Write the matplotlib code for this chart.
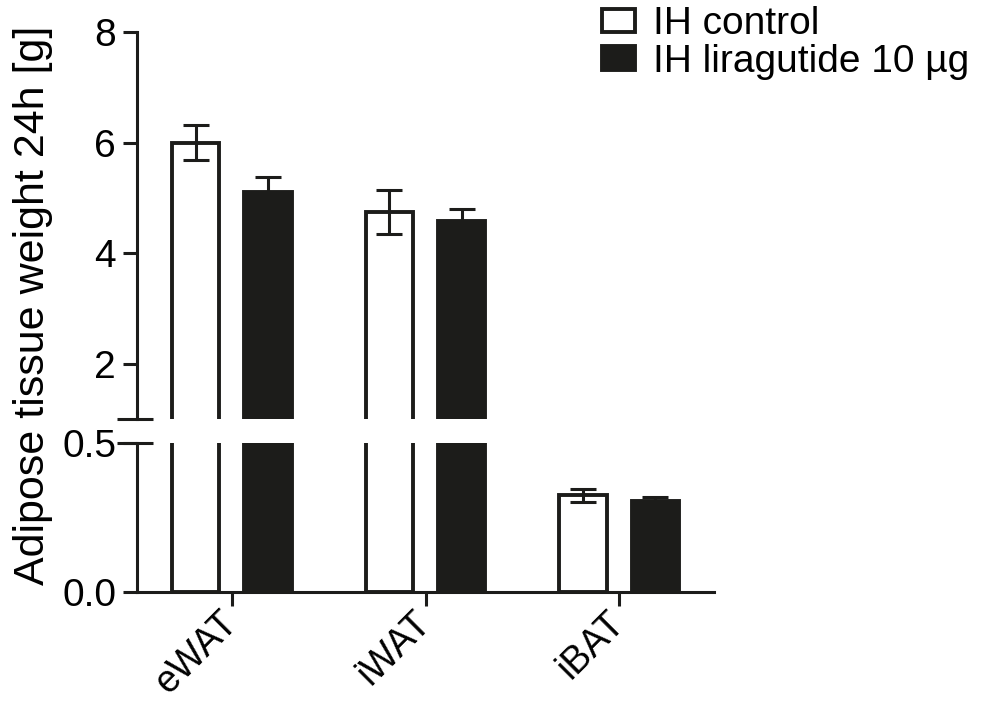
import matplotlib
matplotlib.use("Agg")
import matplotlib.pyplot as plt
import numpy as np
from matplotlib.patches import Patch

plt.rcParams["font.family"] = ["Liberation Sans", "DejaVu Sans"]

# --- data ---
tissues = ["eWAT", "iWAT", "iBAT"]
control_mean = [6.0, 4.75, 0.325]
control_sem = [0.32, 0.40, 0.022]
lira_mean = [5.1, 4.58, 0.305]
lira_sem = [0.28, 0.21, 0.014]
series_labels = ["IH control", "IH liragutide 10 µg"]

FS = 28
LW = 2.2
INK = "#1c1c1a"
x = np.arange(len(tissues))
off = 0.187
width = 0.245

fig = plt.figure(figsize=(9.81, 7.02), dpi=100)
left, w = 137 / 981, 577 / 981
ax_top = fig.add_axes([left, 1 - 419 / 702, w, (419 - 32) / 702])
ax_bot = fig.add_axes([left, 1 - 592 / 702, w, (592 - 443) / 702])

for ax in (ax_top, ax_bot):
    ax.bar(x - off, control_mean, width, color="white", edgecolor=INK,
           linewidth=2.8, zorder=2)
    ax.bar(x + off, lira_mean, width, color=INK, edgecolor=INK,
           linewidth=2.8, zorder=2)
    ax.errorbar(x - off, control_mean, yerr=control_sem, fmt="none",
                ecolor=INK, elinewidth=LW, capsize=9.4, capthick=LW, zorder=3)
    ax.errorbar(x + off, lira_mean, yerr=lira_sem, fmt="none",
                ecolor=INK, elinewidth=LW, capsize=9.4, capthick=LW, zorder=3)
    ax.set_xlim(-0.49, 2.49)
    for s in ("top", "right"):
        ax.spines[s].set_visible(False)
    for s in ("left", "bottom"):
        ax.spines[s].set_linewidth(LW)
        ax.spines[s].set_color(INK)
    ax.tick_params(width=LW, length=10, labelsize=FS, pad=5, color=INK)

ax_top.set_ylim(1, 8)
ax_top.set_yticks([2, 4, 6, 8])
ax_top.spines["bottom"].set_visible(False)
ax_top.tick_params(axis="x", bottom=False, labelbottom=False)

ax_bot.set_ylim(0, 0.5)
ax_bot.set_yticks([0.0, 0.5])
ax_bot.set_yticklabels(["0.0", "0.5"])
ax_bot.set_xticks(x)
ax_bot.set_xticklabels(tissues, rotation=45, ha="right", va="center",
                       rotation_mode="anchor", fontsize=27)
ax_bot.tick_params(axis="x", pad=8)

# break marks on the y axis
for ax, yy in ((ax_top, 0), (ax_bot, 1)):
    ax.plot([-0.035, 0.028], [yy, yy], transform=ax.transAxes, color=INK,
            lw=LW, clip_on=False, solid_capstyle="butt")

fig.text(33 / 981, 1 - 305 / 702, "Adipose tissue weight 24h [g]", rotation=90,
         ha="center", va="center", fontsize=31)

handles = [Patch(facecolor="white", edgecolor=INK, linewidth=2.8),
           Patch(facecolor=INK, edgecolor=INK, linewidth=2.8)]
fig.legend(handles, series_labels, loc="upper left",
           bbox_to_anchor=(602 / 981, 1 - 6 / 702), frameon=False, fontsize=FS,
           borderpad=0, borderaxespad=0, handlelength=0.85, handleheight=0.55,
           handletextpad=0.45, labelspacing=0.05)

fig.savefig("out.png", dpi=100)
